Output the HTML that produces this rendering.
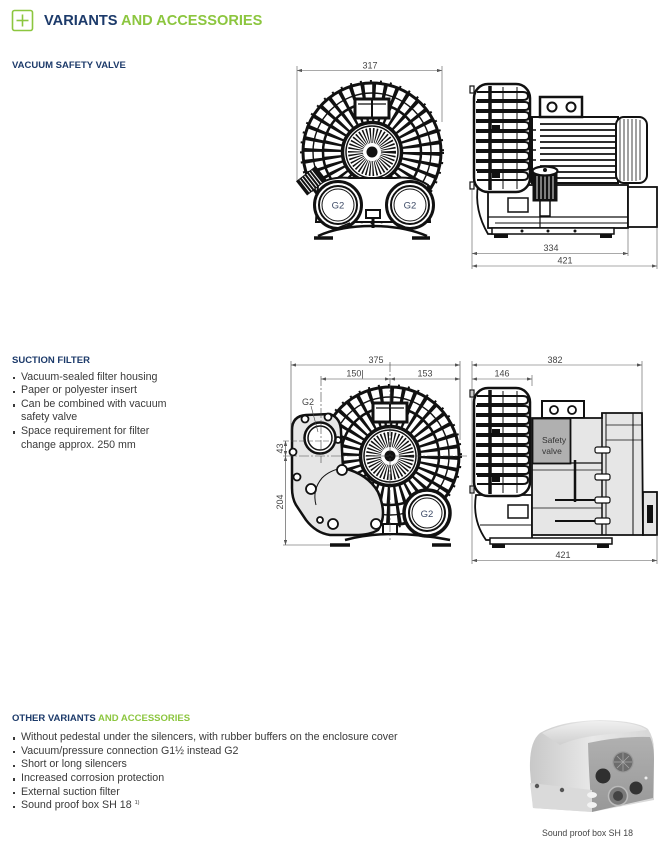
<!DOCTYPE html>
<html><head><meta charset="utf-8">
<style>
html,body{margin:0;padding:0;background:#fff;}
body{width:670px;height:857px;position:relative;overflow:hidden;font-family:"Liberation Sans",sans-serif;}
.t{position:absolute;white-space:nowrap;line-height:1;}
.h{font-weight:bold;color:#1c3a6a;font-size:9.5px;}
.g{color:#8cc63f;}
.b{font-size:10.65px;color:#3a3a3a;left:21px;}
.b i{position:absolute;left:-8.5px;top:5.5px;width:2.4px;height:2.4px;background:#3a3a3a;}
svg{position:absolute;left:0;top:0;}
</style></head><body>

<svg width="670" height="857" viewBox="0 0 670 857" xmlns="http://www.w3.org/2000/svg">
<defs>
 <marker id="ar" viewBox="0 0 6 4" refX="6" refY="2" markerWidth="5" markerHeight="3.4" orient="auto-start-reverse" markerUnits="userSpaceOnUse"><path d="M0,0 L6,2 L0,4Z" fill="#555"/></marker>
 <g id="fan" stroke="#111" fill="none">
  <circle r="59" stroke-width="20" stroke-dasharray="3.4 6.9"/>
  <circle r="39" stroke-width="20" stroke-dasharray="2.8 4.0"/>
  <circle r="69" stroke-width="3"/>
  <circle r="70.5" stroke-width="3" stroke-dasharray="2 8"/>
  <circle r="49" stroke-width="2.5"/>
  <circle r="59" stroke-width="1.4"/>
  <circle r="29.5" stroke-width="3.5" fill="#fff"/>
  <circle r="26" stroke-width="1.5"/>
  <circle r="16.5" stroke-width="15" stroke-dasharray="1.2 1.5"/>
  <circle r="8.5" fill="#fff" stroke="none"/>
  <circle r="5.5" fill="#111" stroke="none"/>
  <rect x="-17" y="-53" width="34" height="19" fill="#fff" stroke-width="3"/>
  <line x1="0" y1="-53" x2="0" y2="-34" stroke-width="2"/>
  <line x1="-14" y1="-48" x2="14" y2="-48" stroke-width="1.2"/>
 </g>
 <g id="guard" stroke="#111" fill="none">
  <rect x="-3" y="3" width="4" height="7" fill="#fff" stroke-width="1.2"/>
  <rect x="-3" y="99" width="4" height="7" fill="#fff" stroke-width="1.2"/>
  <rect x="1" y="1" width="56" height="108" rx="14" fill="#fff" stroke-width="2.5"/>
  <path d="M4,9 H50 Q55,9 55,13 Q55,17 50,17 H4" stroke-width="2"/>
  <path d="M3,19 H52 Q56,19 56,23 Q56,27 52,27 H3" stroke-width="2"/>
  <path d="M3,29 H52 Q56,29 56,33 Q56,37 52,37 H3" stroke-width="2"/>
  <path d="M3,39 H52 Q56,39 56,43 Q56,47 52,47 H3" stroke-width="2"/>
  <path d="M3,49 H52 Q56,49 56,53 Q56,57 52,57 H3" stroke-width="2"/>
  <path d="M3,59 H52 Q56,59 56,63 Q56,67 52,67 H3" stroke-width="2"/>
  <path d="M3,69 H52 Q56,69 56,73 Q56,77 52,77 H3" stroke-width="2"/>
  <path d="M3,79 H52 Q56,79 56,83 Q56,87 52,87 H3" stroke-width="2"/>
  <path d="M4,89 H50 Q55,89 55,93 Q55,97 50,97 H4" stroke-width="2"/>
  <line x1="17" y1="3" x2="17" y2="107" stroke-width="3.5"/>
  <line x1="30" y1="4" x2="30" y2="106" stroke-width="1"/>
  <line x1="44" y1="4" x2="44" y2="106" stroke-width="1"/>
  <rect x="19" y="42" width="8" height="5" fill="#111" stroke="none"/>
  <rect x="19" y="90" width="8" height="5" fill="#111" stroke="none"/>
 </g>
 <linearGradient id="side" x1="0" y1="0" x2="1" y2="0"><stop offset="0" stop-color="#c8c8c8"/><stop offset="0.5" stop-color="#e8e8e8"/><stop offset="1" stop-color="#d6d6d6"/></linearGradient>
 <linearGradient id="top" x1="0" y1="0" x2="0" y2="1"><stop offset="0" stop-color="#f0f0f0"/><stop offset="1" stop-color="#cfcfcf"/></linearGradient>
 <linearGradient id="face" x1="0" y1="0" x2="0" y2="1"><stop offset="0" stop-color="#b0b0b0"/><stop offset="1" stop-color="#989898"/></linearGradient>
</defs>

<!-- header plus box -->
<rect x="12.5" y="10.5" width="20" height="20" rx="2" fill="none" stroke="#8cc63f" stroke-width="1.6"/>
<line x1="22.5" y1="14.5" x2="22.5" y2="26.5" stroke="#8cc63f" stroke-width="1.6"/>
<line x1="16.5" y1="20.5" x2="28.5" y2="20.5" stroke="#8cc63f" stroke-width="1.6"/>

<!-- ============ TOP FRONT VIEW ============ -->
<g stroke="#555" stroke-width="0.6" fill="none">
 <line x1="297" y1="66" x2="297" y2="182"/>
 <line x1="442" y1="66" x2="442" y2="122"/>
 <line x1="297" y1="70.5" x2="442" y2="70.5" marker-start="url(#ar)" marker-end="url(#ar)"/>
</g>
<text x="370" y="68.5" font-family="Liberation Sans, sans-serif" font-size="9" fill="#444" text-anchor="middle">317</text>
<use href="#fan" x="372" y="152"/>
<g stroke="#111" fill="#fff">
 <path d="M318,185 Q330,176 350,178 L395,178 Q415,176 428,185 L430,222 L316,222 Z" stroke-width="2"/>
 <circle cx="338" cy="205" r="23.5" stroke-width="3"/>
 <circle cx="338" cy="205" r="19" stroke-width="2"/>
 <circle cx="338" cy="205" r="16" stroke-width="1"/>
 <circle cx="410" cy="205" r="23.5" stroke-width="3"/>
 <circle cx="410" cy="205" r="19" stroke-width="2"/>
 <circle cx="410" cy="205" r="16" stroke-width="1"/>
 <rect x="366" y="210" width="14" height="8" stroke-width="2"/>
 <path d="M318,236 Q340,226 372,226 Q404,226 427,236" fill="none" stroke-width="2.5"/>
 <path d="M328,232 L350,223 M416,232 L396,223" fill="none" stroke-width="1.5"/>
 <line x1="314" y1="238" x2="333" y2="238" stroke-width="3.5"/>
 <line x1="412" y1="238" x2="430" y2="238" stroke-width="3.5"/>
 <line x1="373" y1="218" x2="373" y2="228" stroke-width="3"/>
</g>
<g transform="rotate(-38 311 181)">
 <rect x="299" y="172" width="25" height="18" fill="#111"/>
 <g stroke="#fff" stroke-width="1">
  <line x1="303" y1="173" x2="303" y2="189"/><line x1="306" y1="173" x2="306" y2="189"/>
  <line x1="309" y1="173" x2="309" y2="189"/><line x1="312" y1="173" x2="312" y2="189"/>
  <line x1="315" y1="173" x2="315" y2="189"/><line x1="318" y1="173" x2="318" y2="189"/>
 </g>
</g>
<text x="338" y="208.5" font-family="Liberation Sans, sans-serif" font-size="9.5" fill="#3c4a66" text-anchor="middle">G2</text>
<text x="410" y="208.5" font-family="Liberation Sans, sans-serif" font-size="9.5" fill="#3c4a66" text-anchor="middle">G2</text>

<!-- ============ TOP SIDE VIEW ============ -->
<g stroke="#111" fill="#fff">
 <path d="M478,185 Q474,210 488,234 L493,234 L493,190 Z" stroke-width="1.8"/>
 <rect x="488" y="185" width="140" height="43" stroke-width="1.8"/>
 <rect x="628" y="187" width="29" height="40" stroke-width="1.8"/>
 <rect x="508" y="198" width="20" height="14" stroke-width="1.5"/>
 <line x1="488" y1="217" x2="628" y2="217" stroke-width="1.2"/>
 <line x1="495" y1="223" x2="628" y2="223" stroke-width="1"/>
 <line x1="540" y1="190" x2="540" y2="228" stroke-width="1.2"/>
 <rect x="492" y="228" width="122" height="6" stroke-width="1.5"/>
 <rect x="494" y="234" width="14" height="4" fill="#111" stroke="none"/>
 <rect x="600" y="234" width="12" height="4" fill="#111" stroke="none"/>
 <circle cx="522" cy="231" r="1.5" fill="#111" stroke="none"/>
 <circle cx="548" cy="231" r="1.5" fill="#111" stroke="none"/>
 <circle cx="575" cy="231" r="1.5" fill="#111" stroke="none"/>
 <rect x="528" y="118" width="8" height="64" stroke-width="1.5"/>
 <rect x="532" y="117" width="86" height="66" stroke-width="2"/>
 <rect x="540" y="97" width="42" height="20" stroke-width="2.5"/>
 <circle cx="552" cy="107" r="4.5" stroke-width="2"/>
 <circle cx="571" cy="107" r="4.5" stroke-width="2"/>
 <rect x="616" y="117" width="31" height="66" rx="8" stroke-width="2"/>
</g>
<g stroke="#111">
 <line x1="540" y1="124" x2="616" y2="124" stroke-width="1.8"/>
 <line x1="540" y1="130" x2="616" y2="130" stroke-width="1.8"/>
 <line x1="540" y1="136" x2="616" y2="136" stroke-width="1.8"/>
 <line x1="540" y1="142" x2="616" y2="142" stroke-width="1.8"/>
 <line x1="540" y1="148" x2="616" y2="148" stroke-width="1.8"/>
 <line x1="540" y1="154" x2="616" y2="154" stroke-width="1.8"/>
 <line x1="540" y1="160" x2="616" y2="160" stroke-width="1.8"/>
 <line x1="540" y1="166" x2="616" y2="166" stroke-width="1.8"/>
 <line x1="540" y1="172" x2="616" y2="172" stroke-width="1.8"/>
 <line x1="540" y1="178" x2="616" y2="178" stroke-width="1.8"/>
 <line x1="620" y1="119" x2="620" y2="181" stroke-width="0.8"/>
 <line x1="624" y1="119" x2="624" y2="181" stroke-width="0.8"/>
 <line x1="628" y1="119" x2="628" y2="181" stroke-width="0.8"/>
 <line x1="632" y1="119" x2="632" y2="181" stroke-width="0.8"/>
 <line x1="636" y1="119" x2="636" y2="181" stroke-width="0.8"/>
 <line x1="640" y1="120" x2="640" y2="180" stroke-width="0.8"/>
 <line x1="528" y1="130" x2="536" y2="130" stroke-width="1.5"/>
 <line x1="528" y1="140" x2="536" y2="140" stroke-width="1.5"/>
 <line x1="528" y1="150" x2="536" y2="150" stroke-width="1.5"/>
 <line x1="528" y1="160" x2="536" y2="160" stroke-width="1.5"/>
 <line x1="528" y1="170" x2="536" y2="170" stroke-width="1.5"/>
</g>
<use href="#guard" x="473" y="83"/>
<!-- valve knob -->
<g stroke="#111">
 <rect x="540" y="200" width="10" height="16" fill="#fff" stroke-width="1.5"/>
 <rect x="533" y="172" width="24" height="29" fill="#111" stroke-width="1"/>
 <g stroke="#fff" stroke-width="0.9">
  <line x1="537" y1="176" x2="537" y2="199"/><line x1="541" y1="176" x2="541" y2="199"/>
  <line x1="545" y1="176" x2="545" y2="199"/><line x1="549" y1="176" x2="549" y2="199"/>
  <line x1="553" y1="176" x2="553" y2="199"/>
 </g>
 <ellipse cx="545" cy="171" rx="12.5" ry="4.5" fill="#fff" stroke-width="2.2"/>
 <circle cx="545" cy="170" r="2" fill="#111" stroke="none"/>
</g>
<g stroke="#555" stroke-width="0.6" fill="none">
 <line x1="472" y1="190" x2="472" y2="269"/>
 <line x1="628" y1="228" x2="628" y2="256"/>
 <line x1="657" y1="228" x2="657" y2="269"/>
 <line x1="472" y1="253.5" x2="628" y2="253.5" marker-start="url(#ar)" marker-end="url(#ar)"/>
 <line x1="472" y1="266" x2="657" y2="266" marker-start="url(#ar)" marker-end="url(#ar)"/>
</g>
<text x="551" y="251" font-family="Liberation Sans, sans-serif" font-size="9" fill="#444" text-anchor="middle">334</text>
<text x="565" y="263.5" font-family="Liberation Sans, sans-serif" font-size="9" fill="#444" text-anchor="middle">421</text>

<!-- ============ MIDDLE FRONT VIEW ============ -->
<use href="#fan" x="390" y="456"/>
<g stroke="#111" fill="#fff">
 <circle cx="427" cy="513" r="23" stroke-width="3.5"/>
 <circle cx="427" cy="513" r="18" stroke-width="2"/>
 <circle cx="427" cy="513" r="15" stroke-width="1"/>
 <path d="M345,540 Q390,528 450,540" fill="none" stroke-width="2.5"/>
 <line x1="330" y1="545" x2="350" y2="545" stroke-width="3.5"/>
 <line x1="432" y1="545" x2="451" y2="545" stroke-width="3.5"/>
 <rect x="383" y="524" width="14" height="10" stroke-width="2"/>
</g>
<path d="M292,430 Q292,416 306,415 L330,414 Q341,418 341,432 L343,468 Q368,474 378,492 Q388,515 378,530 Q370,535 355,535 L330,535 Q316,533 306,520 L296,505 Q292,498 292,488 Z" fill="#e6e6e6" stroke="#111" stroke-width="2.5"/>
<path d="M343,468 Q330,470 322,478 Q312,490 316,505" fill="none" stroke="#111" stroke-width="1"/>
<g stroke="#111" stroke-width="1.8" fill="#fff">
 <circle cx="305" cy="419" r="3.5"/><circle cx="328" cy="417" r="3.5"/>
 <circle cx="293" cy="452" r="3.5"/><circle cx="297" cy="477" r="3.5"/>
 <circle cx="311" cy="489" r="5"/><circle cx="342" cy="470" r="5"/>
 <circle cx="333" cy="524" r="5"/><circle cx="376" cy="524" r="5"/>
 <circle cx="320" cy="520" r="3"/><circle cx="338" cy="440" r="3"/>
</g>
<g stroke="#111" fill="#fff">
 <circle cx="320" cy="438" r="15.5" stroke-width="2.5"/>
 <circle cx="320" cy="438" r="12" stroke-width="1.5"/>
</g>
<line x1="311" y1="406" x2="318" y2="432" stroke="#444" stroke-width="0.6"/>
<text x="308" y="405" font-family="Liberation Sans, sans-serif" font-size="9" fill="#444" text-anchor="middle">G2</text>
<text x="427" y="517" font-family="Liberation Sans, sans-serif" font-size="9.5" fill="#3c4a66" text-anchor="middle">G2</text>
<g stroke="#444" stroke-width="0.6" fill="none">
 <line x1="283" y1="456" x2="467" y2="456" stroke-dasharray="10 2 2 2"/>
 <line x1="390" y1="362" x2="390" y2="540" stroke-dasharray="10 2 2 2"/>
 <line x1="321" y1="376" x2="321" y2="463" stroke-dasharray="10 2 2 2"/>
 <line x1="283" y1="441" x2="336" y2="441" stroke-dasharray="6 2"/>
 <line x1="291" y1="361" x2="291" y2="440"/>
 <line x1="460" y1="361" x2="460" y2="440"/>
 <line x1="283" y1="545" x2="330" y2="545"/>
 <line x1="291" y1="365" x2="460" y2="365" marker-start="url(#ar)" marker-end="url(#ar)"/>
 <line x1="321" y1="379" x2="390" y2="379" marker-start="url(#ar)" marker-end="url(#ar)"/>
 <line x1="390" y1="379" x2="460" y2="379" marker-start="url(#ar)" marker-end="url(#ar)"/>
 <line x1="285.5" y1="441" x2="285.5" y2="456" marker-start="url(#ar)" marker-end="url(#ar)"/>
 <line x1="285.5" y1="456" x2="285.5" y2="545" marker-start="url(#ar)" marker-end="url(#ar)"/>
</g>
<g font-family="Liberation Sans, sans-serif" font-size="9" fill="#444" text-anchor="middle">
 <text x="376" y="363">375</text>
 <text x="355" y="376.5">150|</text>
 <text x="425" y="376.5">153</text>
 <text transform="translate(283 448.5) rotate(-90)">43</text>
 <text transform="translate(283 502) rotate(-90)">204</text>
</g>

<!-- ============ MIDDLE SIDE VIEW ============ -->
<g stroke="#111" fill="#fff">
 <path d="M476,495 Q472,520 486,540 L532,540 L532,495 Z" stroke-width="1.8"/>
 <rect x="508" y="505" width="20" height="13" stroke-width="1.5"/>
 <line x1="480" y1="525" x2="532" y2="525" stroke-width="1"/>
 <rect x="490" y="538" width="122" height="6" stroke-width="1.5"/>
 <rect x="492" y="544" width="13" height="4" fill="#111" stroke="none"/>
 <rect x="597" y="544" width="12" height="4" fill="#111" stroke="none"/>
 <rect x="542" y="401" width="42" height="17" stroke-width="2"/>
 <circle cx="554" cy="410" r="4" stroke-width="1.8"/>
 <circle cx="572" cy="410" r="4" stroke-width="1.8"/>
</g>
<path d="M532,418 L602,418 L602,413 L642,413 L643,535 L532,535 Z" fill="#e6e6e6" stroke="#111" stroke-width="1.8"/>
<rect x="643" y="492" width="14" height="43" fill="#e6e6e6" stroke="#111" stroke-width="1.8"/>
<g stroke="#111" fill="none">
 <line x1="602" y1="413" x2="602" y2="535" stroke-width="1.5"/>
 <line x1="606" y1="413" x2="606" y2="535" stroke-width="1"/>
 <line x1="633" y1="413" x2="633" y2="535" stroke-width="1"/>
 <line x1="575" y1="460" x2="575" y2="502" stroke-width="2.5"/>
 <line x1="532" y1="463" x2="602" y2="463" stroke-width="1.2"/>
 <line x1="532" y1="470" x2="602" y2="470" stroke-width="0.8"/>
 <line x1="555" y1="500" x2="602" y2="500" stroke-width="2"/>
 <line x1="555" y1="521" x2="602" y2="521" stroke-width="2"/>
 <line x1="532" y1="508" x2="602" y2="508" stroke-width="0.8"/>
 <rect x="595" y="447" width="15" height="6" rx="2" fill="#fff" stroke-width="1.2"/>
 <rect x="595" y="474" width="15" height="6" rx="2" fill="#fff" stroke-width="1.2"/>
 <rect x="595" y="497" width="15" height="6" rx="2" fill="#fff" stroke-width="1.2"/>
 <rect x="595" y="518" width="15" height="6" rx="2" fill="#fff" stroke-width="1.2"/>
 <line x1="606" y1="425" x2="642" y2="425" stroke-width="0.8"/>
 <line x1="606" y1="440" x2="642" y2="440" stroke-width="0.8"/>
 <rect x="647" y="505" width="6" height="18" fill="#111" stroke="none"/>
</g>
<rect x="532.5" y="418.5" width="38" height="45" fill="#b0b0b0" stroke="#111" stroke-width="1.8"/>
<text x="542" y="443" font-family="Liberation Sans, sans-serif" font-size="8.5" fill="#333">Safety</text>
<text x="542" y="454" font-family="Liberation Sans, sans-serif" font-size="8.5" fill="#333">valve</text>
<use href="#guard" x="473" y="387"/>
<g stroke="#555" stroke-width="0.6" fill="none">
 <line x1="472" y1="361" x2="472" y2="564"/>
 <line x1="642" y1="361" x2="642" y2="412"/>
 <line x1="532" y1="375" x2="532" y2="386"/>
 <line x1="657" y1="535" x2="657" y2="564"/>
 <line x1="472" y1="365" x2="642" y2="365" marker-start="url(#ar)" marker-end="url(#ar)"/>
 <line x1="472" y1="379" x2="532" y2="379" marker-start="url(#ar)" marker-end="url(#ar)"/>
 <line x1="472" y1="560.5" x2="657" y2="560.5" marker-start="url(#ar)" marker-end="url(#ar)"/>
</g>
<g font-family="Liberation Sans, sans-serif" font-size="9" fill="#444" text-anchor="middle">
 <text x="555" y="363">382</text>
 <text x="502" y="376.5">146</text>
 <text x="563" y="558">421</text>
</g>

<!-- ============ PHOTO ============ -->
<path d="M533,808 L530,770 Q529,742 540,733 Q560,721 600,720 Q638,721 648,729 Q654,738 654,750 L654,800 L592,812 Z" fill="url(#side)"/>
<path d="M542,733 Q565,722 600,721 Q637,722 647,730 Q630,732 600,735 Q575,738 560,745 Z" fill="url(#top)"/>
<path d="M588,743 Q620,736 650,737 Q654,745 654,760 L653,798 L592,812 Q589,780 588,743 Z" fill="url(#face)"/>
<path d="M530,783 L592,790 L592,812 L533,808 Z" fill="#dadada"/>
<circle cx="537" cy="786" r="2.2" fill="#555"/>
<circle cx="562" cy="790" r="2.2" fill="#555"/>
<circle cx="623" cy="762" r="10" fill="#6c6c6c" stroke="#999" stroke-width="1.2"/>
<g stroke="#aaa" stroke-width="0.7"><line x1="614" y1="762" x2="632" y2="762"/><line x1="623" y1="753" x2="623" y2="771"/><line x1="617" y1="756" x2="629" y2="768"/><line x1="617" y1="768" x2="629" y2="756"/></g>
<circle cx="603" cy="776" r="7.5" fill="#2f2f2f"/>
<circle cx="636" cy="788" r="6.5" fill="#333"/>
<circle cx="618" cy="796" r="9.5" fill="#7a7a7a" stroke="#bbb" stroke-width="1.5"/>
<circle cx="618" cy="796" r="5" fill="#444"/>
<ellipse cx="592" cy="795" rx="5" ry="3" fill="#f2f2f2"/>
<ellipse cx="592" cy="805" rx="5" ry="3" fill="#f2f2f2"/>
<circle cx="646" cy="778" r="1.5" fill="#eee"/>
</svg>

<div class="t" style="left:44px;top:14px;font-size:14.6px;font-weight:bold;color:#1c3a6a;">VARIANTS <span class="g">AND ACCESSORIES</span></div>

<div class="t h" style="left:12px;top:61px;">VACUUM SAFETY VALVE</div>

<div class="t h" style="left:12px;top:355.5px;">SUCTION FILTER</div>
<div class="t b" style="top:371.5px;"><i></i>Vacuum-sealed filter housing</div>
<div class="t b" style="top:385.1px;"><i></i>Paper or polyester insert</div>
<div class="t b" style="top:398.7px;"><i></i>Can be combined with vacuum</div>
<div class="t b" style="top:412.3px;">safety valve</div>
<div class="t b" style="top:425.9px;"><i></i>Space requirement for filter</div>
<div class="t b" style="top:439.5px;">change approx. 250 mm</div>

<div class="t h" style="left:12px;top:714px;">OTHER VARIANTS <span class="g">AND ACCESSORIES</span></div>
<div class="t b" style="top:731.8px;"><i></i>Without pedestal under the silencers, with rubber buffers on the enclosure cover</div>
<div class="t b" style="top:745.5px;"><i></i>Vacuum/pressure connection G1½ instead G2</div>
<div class="t b" style="top:759.2px;"><i></i>Short or long silencers</div>
<div class="t b" style="top:772.9px;"><i></i>Increased corrosion protection</div>
<div class="t b" style="top:786.6px;"><i></i>External suction filter</div>
<div class="t b" style="top:800.3px;"><i></i>Sound proof box SH 18 <sup style="font-size:5.5px;vertical-align:4px;">1)</sup></div>

<div class="t" style="left:542px;top:828.6px;font-size:8.75px;color:#444;">Sound proof box SH 18</div>
</body></html>
